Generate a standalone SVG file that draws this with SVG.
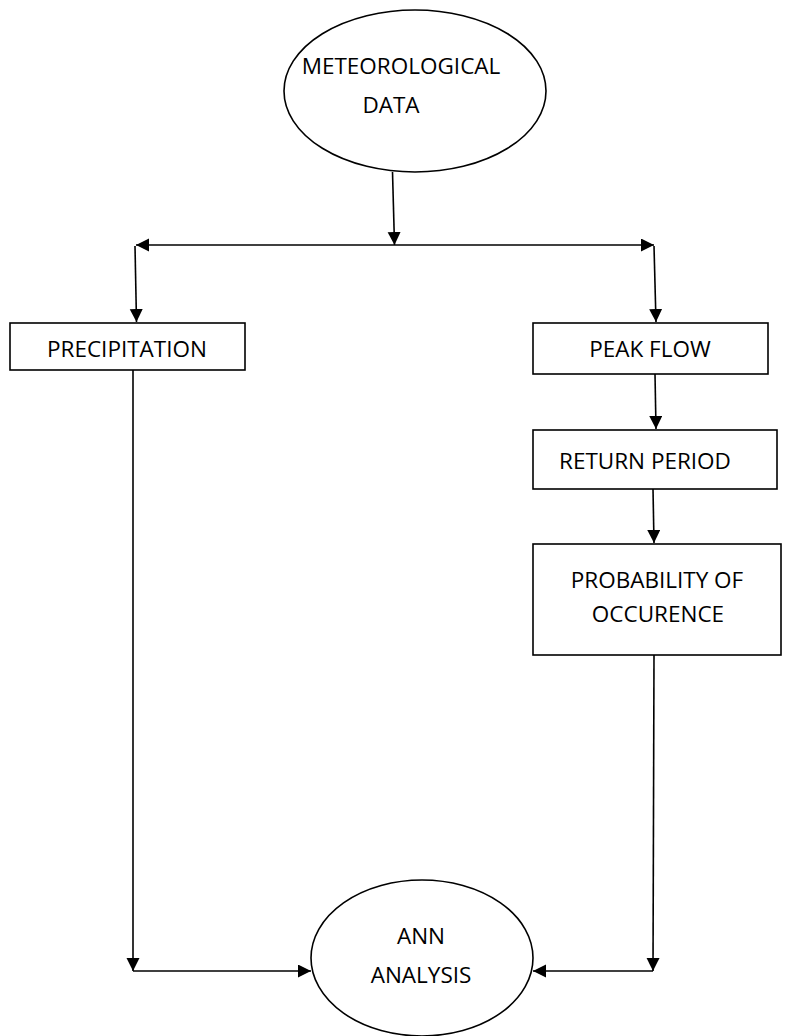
<svg xmlns="http://www.w3.org/2000/svg" width="800" height="1036" viewBox="0 0 800 1036">
<defs>
<marker id="arr" markerUnits="userSpaceOnUse" markerWidth="14" markerHeight="14" refX="13" refY="6.5" orient="auto">
<path d="M0,0 L13,6.5 L0,13 z" fill="#000"/>
</marker>
<style>
.shape{fill:#fff;stroke:#000;stroke-width:1.6}
.conn{fill:none;stroke:#000;stroke-width:1.6}
.lbl{font-family:"Open Sans","Liberation Sans",sans-serif;font-size:22.5px;fill:#000;text-anchor:middle}
</style>
</defs>
<rect width="800" height="1036" fill="#fff"/>
<g id="connectors">
<line class="conn" x1="392.5" y1="172" x2="394.5" y2="245" marker-end="url(#arr)"/>
<line class="conn" x1="395" y1="245" x2="136" y2="245" marker-end="url(#arr)"/>
<line class="conn" x1="395" y1="245" x2="654" y2="245" marker-end="url(#arr)"/>
<line class="conn" x1="135" y1="246" x2="136.5" y2="322" marker-end="url(#arr)"/>
<line class="conn" x1="654" y1="246" x2="656" y2="322" marker-end="url(#arr)"/>
<line class="conn" x1="655" y1="374" x2="656" y2="429" marker-end="url(#arr)"/>
<line class="conn" x1="653" y1="489" x2="654" y2="543" marker-end="url(#arr)"/>
<line class="conn" x1="133" y1="370" x2="133" y2="971" marker-end="url(#arr)"/>
<line class="conn" x1="133" y1="971" x2="311" y2="971" marker-end="url(#arr)"/>
<line class="conn" x1="654" y1="655" x2="653" y2="971" marker-end="url(#arr)"/>
<line class="conn" x1="653" y1="971" x2="533" y2="971" marker-end="url(#arr)"/>
</g>
<g id="node-meteorological">
<ellipse class="shape" cx="415" cy="91" rx="131" ry="81"/>
<text class="lbl" x="401" y="74">METEOROLOGICAL</text>
<text class="lbl" x="391" y="113">DATA</text>
</g>
<g id="node-precipitation">
<rect class="shape" x="10" y="323" width="235" height="47"/>
<text class="lbl" x="127" y="357">PRECIPITATION</text>
</g>
<g id="node-peakflow">
<rect class="shape" x="533" y="323" width="235" height="51"/>
<text class="lbl" x="650" y="357">PEAK FLOW</text>
</g>
<g id="node-return">
<rect class="shape" x="533" y="430" width="244" height="59"/>
<text class="lbl" x="645" y="469">RETURN PERIOD</text>
</g>
<g id="node-probability">
<rect class="shape" x="533" y="544" width="248" height="111"/>
<text class="lbl" x="657" y="588">PROBABILITY OF</text>
<text class="lbl" x="658" y="622">OCCURENCE</text>
</g>
<g id="node-ann">
<ellipse class="shape" cx="422" cy="958" rx="111" ry="78"/>
<text class="lbl" x="421" y="944">ANN</text>
<text class="lbl" x="421" y="983">ANALYSIS</text>
</g>
</svg>
